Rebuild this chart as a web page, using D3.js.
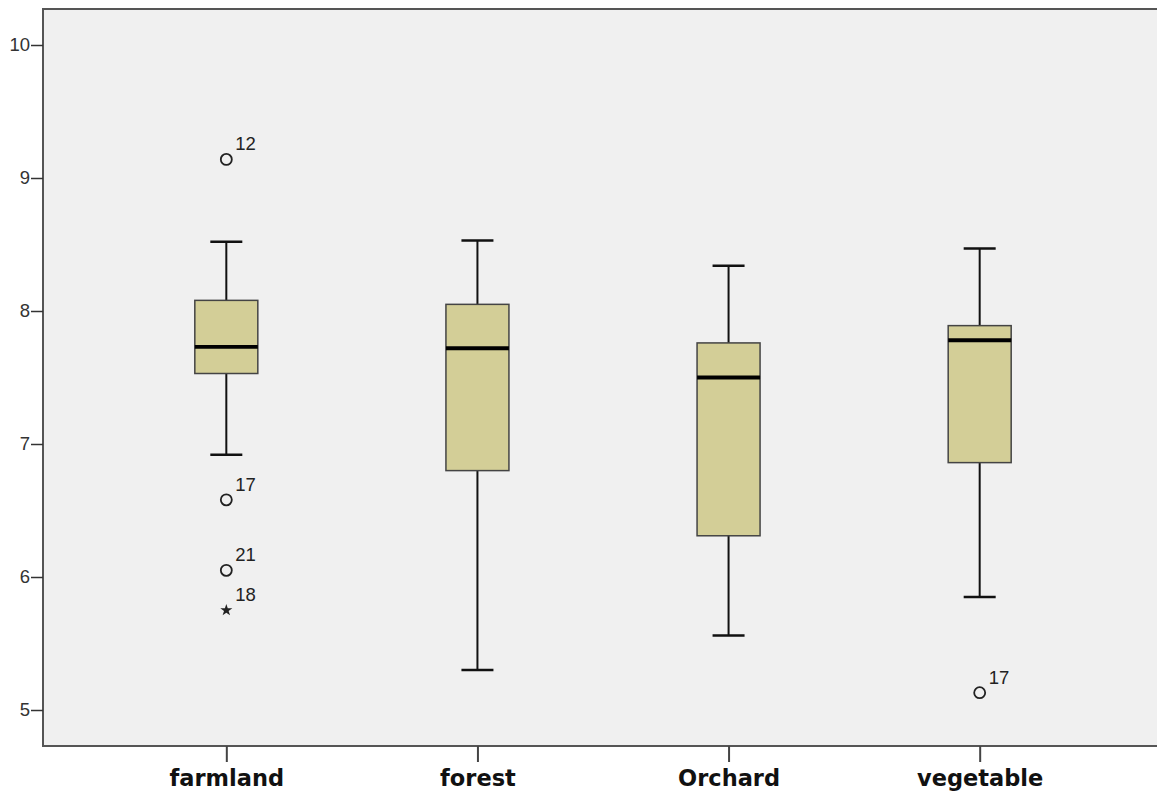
<!DOCTYPE html>
<html><head><meta charset="utf-8">
<script src="https://cdn.jsdelivr.net/npm/d3@7"></script>
<style>body{margin:0;background:#fff}svg{display:block}</style>
</head><body>
<script>
const categories = ["farmland", "forest", "Orchard", "vegetable"];
const whiskerHigh = [8.52, 8.53, 8.34, 8.47];
const q3Values    = [8.08, 8.05, 7.76, 7.89];
const medians     = [7.73, 7.72, 7.50, 7.78];
const q1Values    = [7.53, 6.80, 6.31, 6.86];
const whiskerLow  = [6.92, 5.30, 5.56, 5.85];
const outlierCats   = ["farmland", "farmland", "farmland", "farmland", "vegetable"];
const outlierValues = [9.14, 6.58, 6.05, 5.75, 5.13];
const outlierLabels = ["12", "17", "21", "18", "17"];
const outlierKinds  = ["circle", "circle", "circle", "star", "circle"];
const yTicks = [5, 6, 7, 8, 9, 10];

(function () {
const W = 1157, H = 791;
const pLeft = 43, pTop = 9, pBottom = 746, pRight = 1163;

const svg = d3.select("body").append("svg").attr("width", W).attr("height", H);

const x = d3.scalePoint().domain(categories).range([pLeft, pRight]).padding(0.73);
const y = d3.scaleLinear().domain([5, 10]).range([710, 45]);

svg.append("rect").attr("x", pLeft).attr("y", pTop).attr("width", pRight - pLeft).attr("height", pBottom - pTop)
  .attr("fill", "#f0f0f0").attr("stroke", "#555").attr("stroke-width", 2);

const yAxis = svg.append("g").attr("transform", `translate(${pLeft},0)`)
  .call(d3.axisLeft(y).tickValues(yTicks).tickFormat(d3.format("d")).tickSize(12).tickPadding(1));
yAxis.select(".domain").remove();
yAxis.selectAll("line").attr("stroke", "#333").attr("stroke-width", 1.5);
yAxis.selectAll("text").attr("font-family", "Liberation Sans, Arial, sans-serif").attr("font-size", 18.5).attr("fill", "#333");

const xAxis = svg.append("g").attr("transform", `translate(0,${pBottom})`)
  .call(d3.axisBottom(x).tickSize(16).tickPadding(8));
xAxis.select(".domain").remove();
xAxis.selectAll("line").attr("stroke", "#444").attr("stroke-width", 2);
xAxis.selectAll("text").attr("font-family", "DejaVu Sans, Verdana, sans-serif").attr("font-size", 22.5)
  .attr("font-weight", "bold").attr("fill", "#111").attr("dy", "0.72em");

const boxW = 63, capW = 32;
const g = svg.append("g");
categories.forEach((c, i) => {
  const cx = x(c);
  g.append("line").attr("x1", cx).attr("x2", cx).attr("y1", y(whiskerHigh[i])).attr("y2", y(q3Values[i]))
    .attr("stroke", "#111").attr("stroke-width", 2);
  g.append("line").attr("x1", cx).attr("x2", cx).attr("y1", y(q1Values[i])).attr("y2", y(whiskerLow[i]))
    .attr("stroke", "#111").attr("stroke-width", 2);
  g.append("line").attr("x1", cx - capW / 2).attr("x2", cx + capW / 2).attr("y1", y(whiskerHigh[i])).attr("y2", y(whiskerHigh[i]))
    .attr("stroke", "#111").attr("stroke-width", 2.5);
  g.append("line").attr("x1", cx - capW / 2).attr("x2", cx + capW / 2).attr("y1", y(whiskerLow[i])).attr("y2", y(whiskerLow[i]))
    .attr("stroke", "#111").attr("stroke-width", 2.5);
  g.append("rect").attr("x", cx - boxW / 2).attr("y", y(q3Values[i])).attr("width", boxW)
    .attr("height", y(q1Values[i]) - y(q3Values[i]))
    .attr("fill", "#d3ce97").attr("stroke", "#444").attr("stroke-width", 1.5);
  g.append("line").attr("x1", cx - boxW / 2).attr("x2", cx + boxW / 2).attr("y1", y(medians[i])).attr("y2", y(medians[i]))
    .attr("stroke", "#000").attr("stroke-width", 3.8);
});

outlierValues.forEach((v, i) => {
  const cx = x(outlierCats[i]), cy = y(v);
  if (outlierKinds[i] === "circle") {
    g.append("circle").attr("cx", cx).attr("cy", cy).attr("r", 5.5).attr("fill", "none")
      .attr("stroke", "#222").attr("stroke-width", 1.8);
  } else {
    g.append("path").attr("d", d3.symbol(d3.symbolStar, 45)()).attr("transform", `translate(${cx},${cy})`)
      .attr("fill", "#222");
  }
  g.append("text").attr("x", cx + 9).attr("y", cy - 9).text(outlierLabels[i])
    .attr("font-family", "Liberation Sans, Arial, sans-serif").attr("font-size", 18.5).attr("fill", "#222");
});
})();
</script>
</body></html>
